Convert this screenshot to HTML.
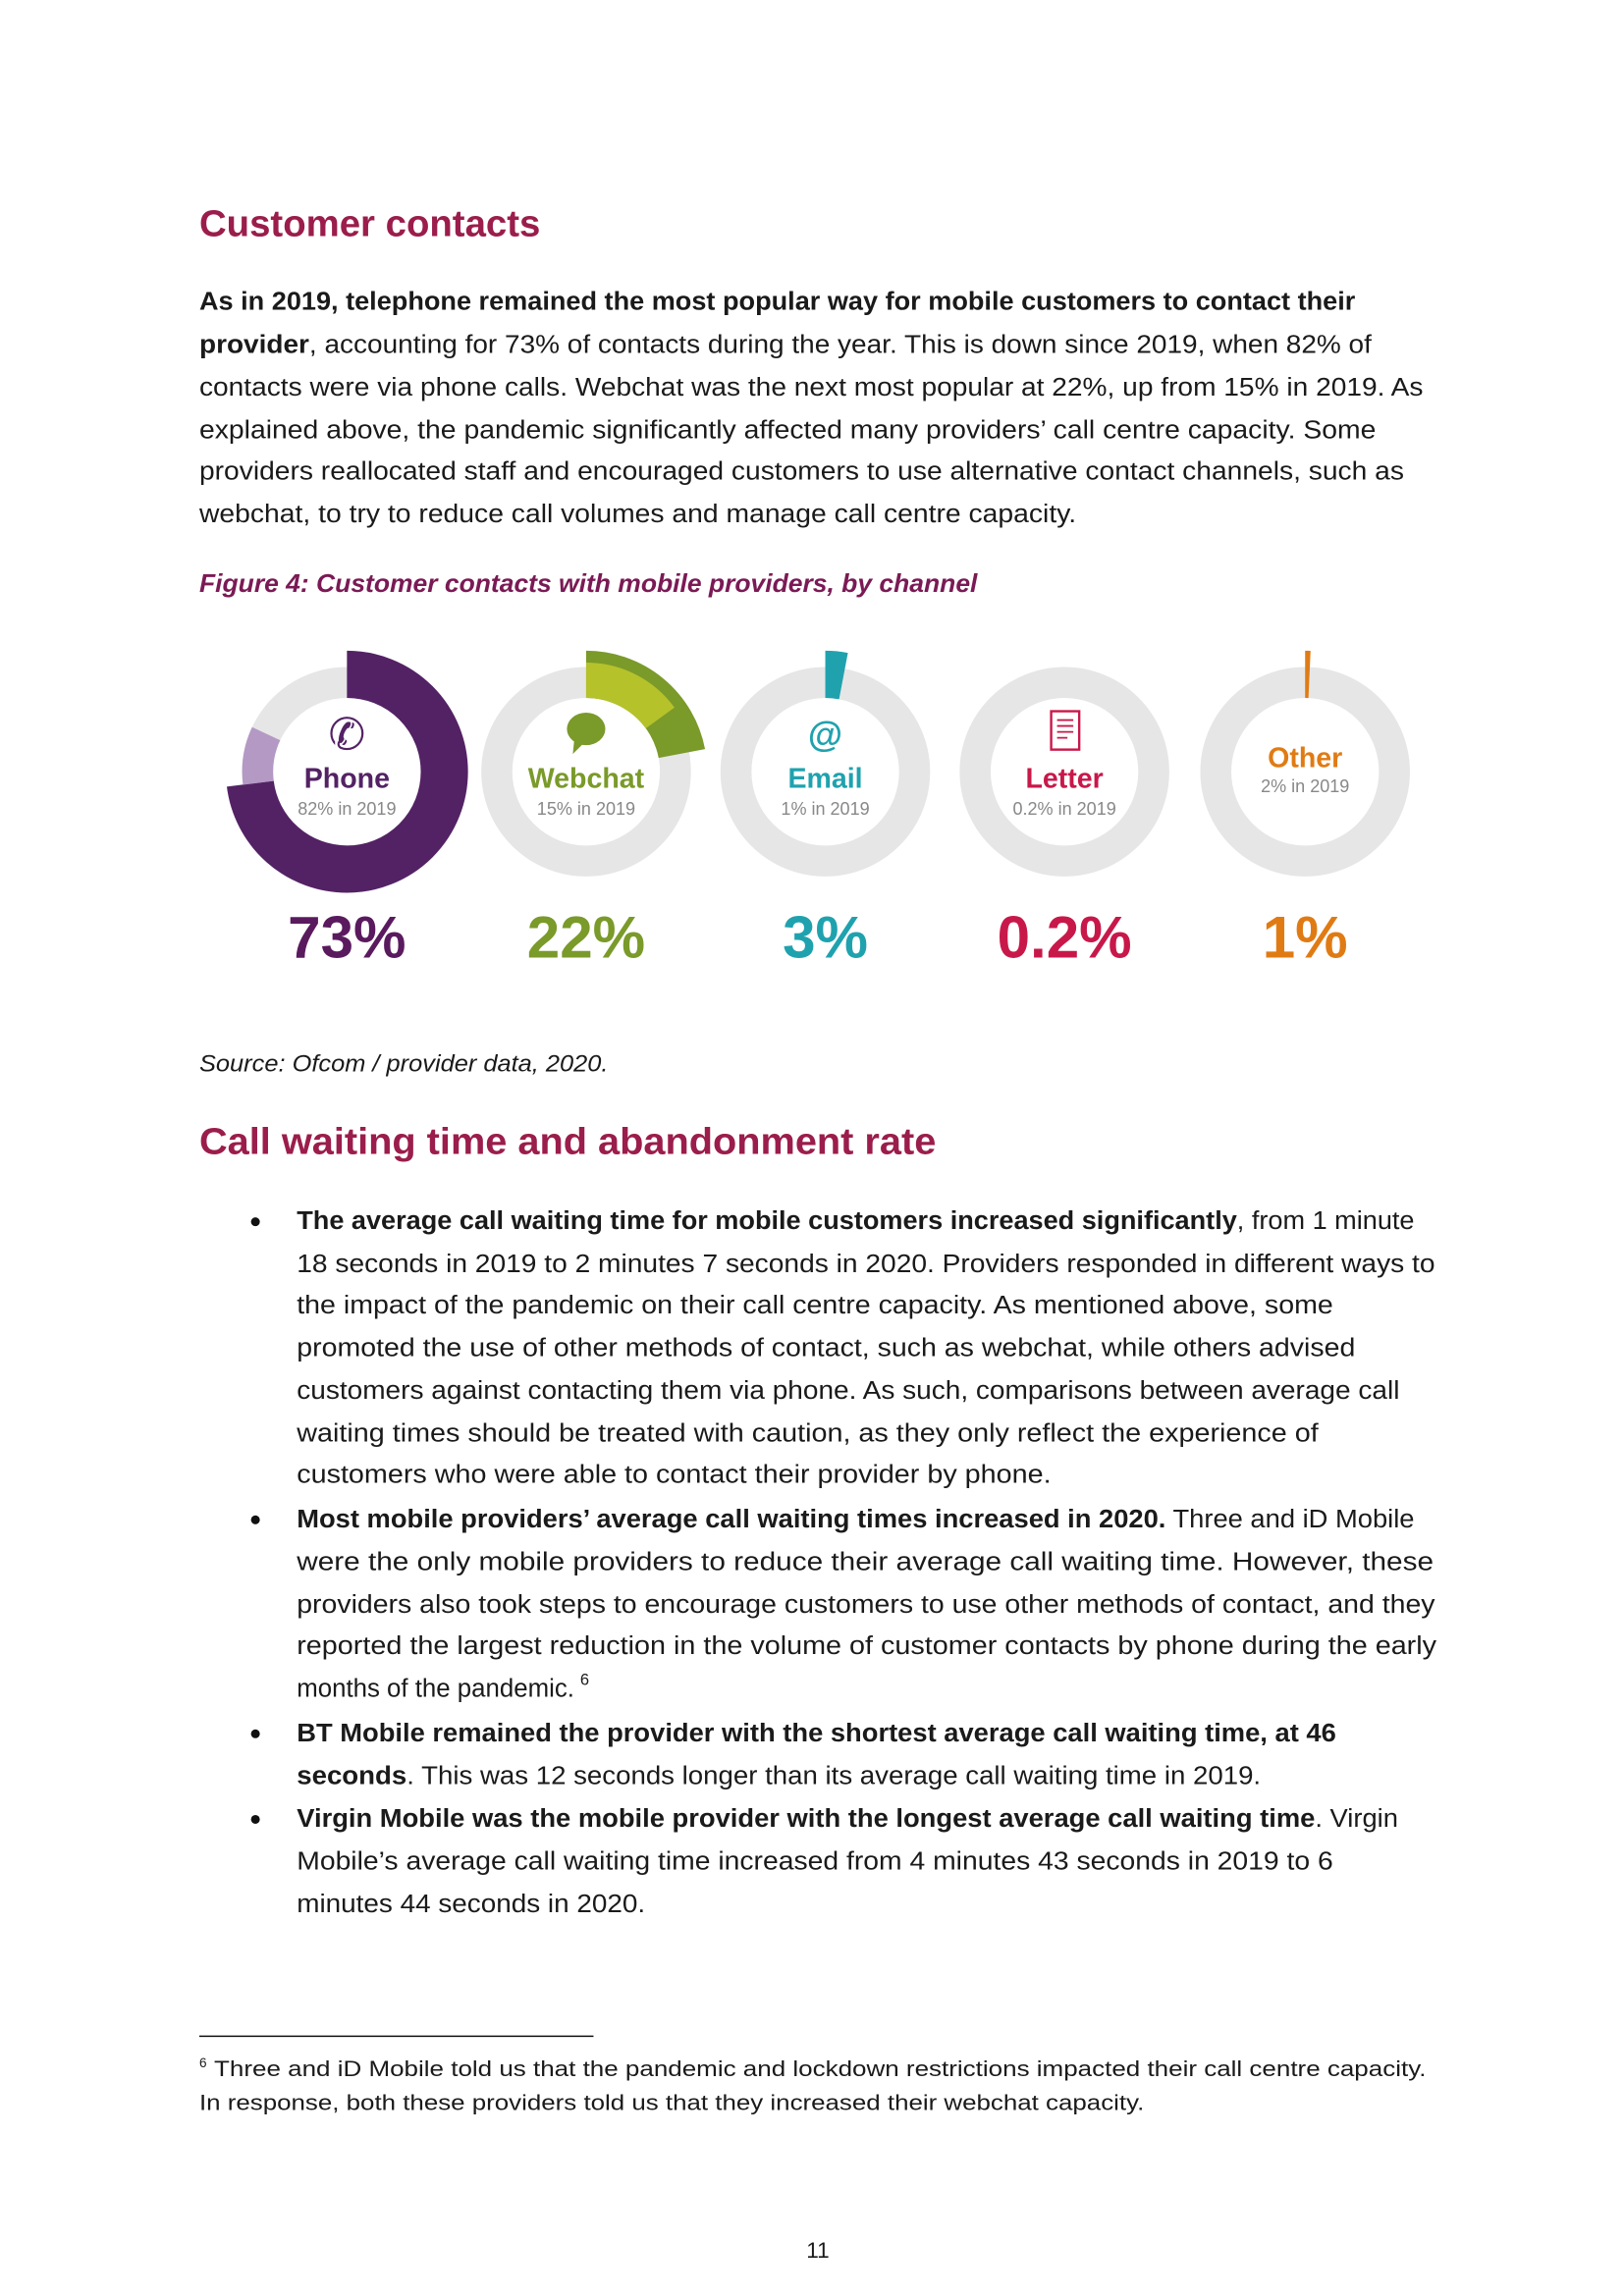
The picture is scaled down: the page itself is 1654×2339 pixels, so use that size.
<!DOCTYPE html>
<html><head><meta charset="utf-8"><style>
html,body{margin:0;padding:0;background:#fff;overflow:hidden}
svg{display:block}
text{font-family:"Liberation Sans",sans-serif;fill:#1a1a1a}
.b{font-size:17.5px}
.h{font-size:25px;fill:#9b1d4b;font-weight:bold}
.bd{font-weight:bold}
.big{font-size:40px;font-weight:bold}
.lab{font-size:19px;font-weight:bold}
.sub{font-size:12px;fill:#888}
</style></head><body>
<svg width="1654" height="2339" viewBox="0 0 1100 1556" preserveAspectRatio="none" xmlns="http://www.w3.org/2000/svg">
<text class="h" x="135" y="160" textLength="231" lengthAdjust="spacingAndGlyphs">Customer contacts</text>

<g class="b">
<text class="b" x="135" y="210" textLength="783" lengthAdjust="spacingAndGlyphs"><tspan class="bd">As in 2019, telephone remained the most popular way for mobile customers to contact their</tspan></text>
<text class="b" x="135" y="239" textLength="794" lengthAdjust="spacingAndGlyphs"><tspan class="bd">provider</tspan>, accounting for 73% of contacts during the year. This is down since 2019, when 82% of</text>
<text class="b" x="135" y="268" textLength="829" lengthAdjust="spacingAndGlyphs">contacts were via phone calls. Webchat was the next most popular at 22%, up from 15% in 2019. As</text>
<text class="b" x="135" y="297" textLength="797" lengthAdjust="spacingAndGlyphs">explained above, the pandemic significantly affected many providers’ call centre capacity. Some</text>
<text class="b" x="135" y="325" textLength="816" lengthAdjust="spacingAndGlyphs">providers reallocated staff and encouraged customers to use alternative contact channels, such as</text>
<text class="b" x="135" y="354" textLength="594" lengthAdjust="spacingAndGlyphs">webchat, to try to reduce call volumes and manage call centre capacity.</text>
</g>
<text x="135" y="401" style="font-size:17px;font-style:italic;font-weight:bold;fill:#7a1a55" textLength="527" lengthAdjust="spacingAndGlyphs">Figure 4: Customer contacts with mobile providers, by channel</text>

<g fill="none">
<circle cx="235" cy="523" r="60.5" stroke="#e6e6e6" stroke-width="21"/>
<circle cx="397" cy="523" r="60.5" stroke="#e6e6e6" stroke-width="21"/>
<circle cx="559" cy="523" r="60.5" stroke="#e6e6e6" stroke-width="21"/>
<circle cx="721" cy="523" r="60.5" stroke="#e6e6e6" stroke-width="21"/>
<circle cx="884" cy="523" r="60.5" stroke="#e6e6e6" stroke-width="21"/>
<circle cx="235" cy="523" r="66" stroke="#532264" stroke-width="32" stroke-dasharray="302.7 1000" transform="rotate(-90 235 523)"/>
<circle cx="235" cy="523" r="60.5" stroke="#b399c4" stroke-width="21" stroke-dasharray="34.2 1000" transform="rotate(172.8 235 523)"/>
<circle cx="397" cy="523" r="66" stroke="#7a9a2a" stroke-width="32" stroke-dasharray="91.2 1000" transform="rotate(-90 397 523)"/>
<circle cx="397" cy="523" r="62" stroke="#b5c22a" stroke-width="24" stroke-dasharray="58.4 1000" transform="rotate(-90 397 523)"/>
<circle cx="559" cy="523" r="66" stroke="#1fa2ae" stroke-width="32" stroke-dasharray="12.4 1000" transform="rotate(-90 559 523)"/>
<circle cx="884" cy="523" r="66" stroke="#e07b14" stroke-width="32" stroke-dasharray="3 1000" transform="rotate(-90 884 523)"/>
</g>
<text x="235" y="508" text-anchor="middle" style="font-size:30px;fill:#532264">✆</text>
<ellipse cx="397" cy="494" rx="13" ry="11" fill="#7a9a2a"/>
<path d="M389 501 L388 511 L396 503 Z" fill="#7a9a2a"/>
<text x="559" y="506" text-anchor="middle" style="font-size:24px;font-weight:bold;fill:#1fa2ae">@</text>
<rect x="712" y="482" width="19" height="26" fill="none" stroke="#c8184a" stroke-width="1.6"/>
<path d="M716 488h11M716 492h11M716 496h11M716 500h7" stroke="#c8184a" stroke-width="1.2"/>
<text class="lab" x="235" y="534" text-anchor="middle" style="fill:#532264">Phone</text>
<text class="sub" x="235" y="552" text-anchor="middle">82% in 2019</text>
<text class="lab" x="397" y="534" text-anchor="middle" style="fill:#7a9a2a">Webchat</text>
<text class="sub" x="397" y="552" text-anchor="middle">15% in 2019</text>
<text class="lab" x="559" y="534" text-anchor="middle" style="fill:#1fa2ae">Email</text>
<text class="sub" x="559" y="552" text-anchor="middle">1% in 2019</text>
<text class="lab" x="721" y="534" text-anchor="middle" style="fill:#c8184a">Letter</text>
<text class="sub" x="721" y="552" text-anchor="middle">0.2% in 2019</text>
<text class="lab" x="884" y="520" text-anchor="middle" style="fill:#e07b14">Other</text>
<text class="sub" x="884" y="537" text-anchor="middle">2% in 2019</text>
<text class="big" x="235" y="649" text-anchor="middle" style="fill:#5a1a5e">73%</text>
<text class="big" x="397" y="649" text-anchor="middle" style="fill:#7a9a2a">22%</text>
<text class="big" x="559" y="649" text-anchor="middle" style="fill:#1fa2ae">3%</text>
<text class="big" x="721" y="649" text-anchor="middle" style="fill:#c8184a">0.2%</text>
<text class="big" x="884" y="649" text-anchor="middle" style="fill:#e07b14">1%</text>

<text x="135" y="726" style="font-size:16px;font-style:italic" textLength="277" lengthAdjust="spacingAndGlyphs">Source: Ofcom / provider data, 2020.</text>
<text class="h" x="135" y="782" textLength="499" lengthAdjust="spacingAndGlyphs">Call waiting time and abandonment rate</text>

<g>
<circle cx="173" cy="828" r="3" fill="#111"/>
<circle cx="173" cy="1030" r="3" fill="#111"/>
<circle cx="173" cy="1175" r="3" fill="#111"/>
<circle cx="173" cy="1233" r="3" fill="#111"/>
<text class="b" x="201" y="833" textLength="757" lengthAdjust="spacingAndGlyphs"><tspan class="bd">The average call waiting time for mobile customers increased significantly</tspan>, from 1 minute</text>
<text class="b" x="201" y="862" textLength="771" lengthAdjust="spacingAndGlyphs">18 seconds in 2019 to 2 minutes 7 seconds in 2020. Providers responded in different ways to</text>
<text class="b" x="201" y="890" textLength="702" lengthAdjust="spacingAndGlyphs">the impact of the pandemic on their call centre capacity. As mentioned above, some</text>
<text class="b" x="201" y="919" textLength="717" lengthAdjust="spacingAndGlyphs">promoted the use of other methods of contact, such as webchat, while others advised</text>
<text class="b" x="201" y="948" textLength="747" lengthAdjust="spacingAndGlyphs">customers against contacting them via phone. As such, comparisons between average call</text>
<text class="b" x="201" y="977" textLength="692" lengthAdjust="spacingAndGlyphs">waiting times should be treated with caution, as they only reflect the experience of</text>
<text class="b" x="201" y="1005" textLength="511" lengthAdjust="spacingAndGlyphs">customers who were able to contact their provider by phone.</text>
<text class="b" x="201" y="1035" textLength="757" lengthAdjust="spacingAndGlyphs"><tspan class="bd">Most mobile providers’ average call waiting times increased in 2020.</tspan> Three and iD Mobile</text>
<text class="b" x="201" y="1064" textLength="770" lengthAdjust="spacingAndGlyphs">were the only mobile providers to reduce their average call waiting time. However, these</text>
<text class="b" x="201" y="1093" textLength="771" lengthAdjust="spacingAndGlyphs">providers also took steps to encourage customers to use other methods of contact, and they</text>
<text class="b" x="201" y="1121" textLength="772" lengthAdjust="spacingAndGlyphs">reported the largest reduction in the volume of customer contacts by phone during the early</text>
<text class="b" x="201" y="1150" textLength="188" lengthAdjust="spacingAndGlyphs">months of the pandemic.</text>
<text x="393" y="1142" style="font-size:11px">6</text>
<text class="b" x="201" y="1180" textLength="704" lengthAdjust="spacingAndGlyphs"><tspan class="bd">BT Mobile remained the provider with the shortest average call waiting time, at 46</tspan></text>
<text class="b" x="201" y="1209" textLength="653" lengthAdjust="spacingAndGlyphs"><tspan class="bd">seconds</tspan>. This was 12 seconds longer than its average call waiting time in 2019.</text>
<text class="b" x="201" y="1238" textLength="746" lengthAdjust="spacingAndGlyphs"><tspan class="bd">Virgin Mobile was the mobile provider with the longest average call waiting time</tspan>. Virgin</text>
<text class="b" x="201" y="1267" textLength="702" lengthAdjust="spacingAndGlyphs">Mobile’s average call waiting time increased from 4 minutes 43 seconds in 2019 to 6</text>
<text class="b" x="201" y="1296" textLength="236" lengthAdjust="spacingAndGlyphs">minutes 44 seconds in 2020.</text>
</g>

<line x1="135" y1="1380" x2="402" y2="1380" stroke="#111" stroke-width="1"/>
<text x="135" y="1401" style="font-size:9px">6</text>
<text x="145" y="1407" style="font-size:15px" textLength="821" lengthAdjust="spacingAndGlyphs">Three and iD Mobile told us that the pandemic and lockdown restrictions impacted their call centre capacity.</text>
<text x="135" y="1430" style="font-size:15px" textLength="640" lengthAdjust="spacingAndGlyphs">In response, both these providers told us that they increased their webchat capacity.</text>
<text x="554" y="1530" text-anchor="middle" style="font-size:15px">11</text>
</svg>
</body></html>
